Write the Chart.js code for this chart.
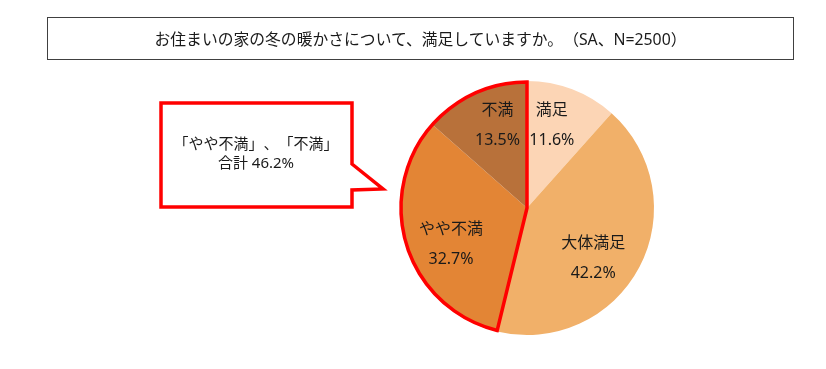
<!DOCTYPE html>
<html lang="ja">
<head>
<meta charset="utf-8">
<script src="https://cdn.jsdelivr.net/npm/chart.js@4/dist/chart.umd.min.js"></script>
<style>
  html, body { margin: 0; padding: 0; background: #fff; }
  body { width: 826px; height: 369px; position: relative; overflow: hidden;
         font-family: "Noto Sans", "Noto Sans CJK JP", sans-serif; color: #1a1a1a;
         text-spacing-trim: space-all; }
  #chart { position: absolute; left: 0; top: 0; }
  .title-box { position: absolute; left: 47px; top: 17px; width: 745px; height: 41px;
               border: 1.5px solid #404040; display: flex; align-items: center;
               justify-content: center; font-size: 15.8px; }
  #callout { position: absolute; left: 0; top: 0; }
  .callout-text { position: absolute; left: 161px; top: 134px; width: 190px;
                  text-align: center; font-size: 15px; line-height: 19px; }
</style>
</head>
<body>
<canvas id="chart" width="826" height="369"></canvas>
<div class="title-box">お住まいの家の冬の暖かさについて、満足していますか。（SA、N=2500）</div>
<svg id="callout" width="826" height="369">
  <polygon points="161,103 352,103 352,164 383,189 352,190 352,207 161,207"
           fill="#fff" stroke="#ff0000" stroke-width="3.5" stroke-linejoin="miter"/>
</svg>
<div class="callout-text">「やや不満」、「不満」<br>合計 46.2%</div>

<script>
"use strict";

// ── data ──────────────────────────────────────────────────────────────────────
const categories = ["満足", "大体満足", "やや不満", "不満"];
const shares     = [11.6, 42.2, 32.7, 13.5];
const sliceColors = ["#fcd5b5", "#f1b069", "#e38535", "#b8713a"];
// slices wrapped together by the red outline
const highlighted = [2, 3];
// small nudges for in-slice labels (px)
const labelNudge = [[-5, -4], [-8, 11], [4, 11], [5, -6]];

// ── plugin: slice labels + red outline round the "dissatisfied" group ────────
const pieExtras = {
  id: "pieExtras",
  afterDatasetsDraw(chart) {
    const ctx = chart.ctx;
    const arcs = chart.getDatasetMeta(0).data;

    // labels
    ctx.save();
    ctx.fillStyle = "#1a1a1a";
    ctx.font = '16px "Noto Sans", "Noto Sans CJK JP", sans-serif';
    ctx.textAlign = "center";
    ctx.textBaseline = "middle";
    arcs.forEach((arc, i) => {
      const p = arc.getProps(["x", "y", "startAngle", "endAngle", "outerRadius"], true);
      const mid = (p.startAngle + p.endAngle) / 2;
      const r = p.outerRadius * 0.66;
      const cx = p.x + Math.cos(mid) * r + labelNudge[i][0];
      const cy = p.y + Math.sin(mid) * r + labelNudge[i][1];
      ctx.fillText(categories[i], cx, cy - 15);
      ctx.fillText(shares[i].toFixed(1) + "%", cx, cy + 15);
    });
    ctx.restore();

    // outline
    const first = arcs[highlighted[0]].getProps(["x", "y", "startAngle", "outerRadius"], true);
    const last  = arcs[highlighted[highlighted.length - 1]].getProps(["endAngle"], true);
    ctx.save();
    ctx.strokeStyle = "#ff0000";
    ctx.lineWidth = 3.5;
    ctx.lineJoin = "miter";
    ctx.beginPath();
    ctx.moveTo(first.x, first.y);
    ctx.arc(first.x, first.y, first.outerRadius - 1, first.startAngle, last.endAngle);
    ctx.closePath();
    ctx.stroke();
    ctx.restore();
  }
};

new Chart(document.getElementById("chart"), {
  type: "pie",
  data: {
    labels: categories,
    datasets: [{
      data: shares,
      backgroundColor: sliceColors,
      borderWidth: 0,
    }],
  },
  options: {
    responsive: false,
    animation: false,
    layout: { padding: { left: 400, right: 172, top: 81, bottom: 34 } },
    plugins: {
      legend: { display: false },
      tooltip: { enabled: false },
    },
  },
  plugins: [pieExtras],
});
</script>
</body>
</html>
